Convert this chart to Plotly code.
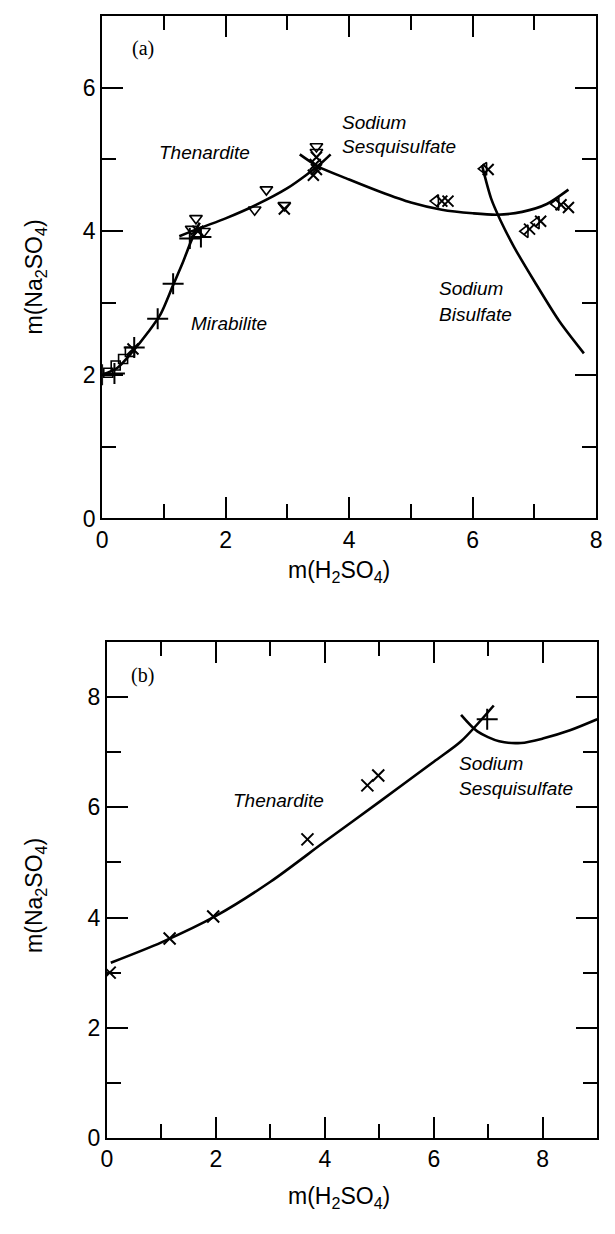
import plotly.graph_objects as go

# ---------------- Panel (a) data ----------------
a_plus_x = [0.0, 0.2, 0.52, 0.9, 1.15, 1.42, 1.6]
a_plus_y = [2.0, 2.02, 2.38, 2.78, 3.27, 3.9, 3.92]
a_square_x = [0.1, 0.22, 0.34, 0.45]
a_square_y = [2.03, 2.13, 2.22, 2.32]
a_tridown_x = [1.52, 1.45, 1.65, 2.47, 2.66, 2.95, 3.47, 3.47]
a_tridown_y = [4.18, 4.03, 4.0, 4.3, 4.58, 4.36, 5.18, 5.1]
a_cross_x = [0.5, 1.55, 2.95, 3.47, 3.45, 3.47, 3.42, 5.5, 5.6, 6.25, 6.92, 7.1, 7.43, 7.55]
a_cross_y = [2.36, 4.0, 4.31, 5.03, 4.93, 4.86, 4.78, 4.42, 4.42, 4.86, 4.03, 4.14, 4.37, 4.33]
a_trileft_x = [5.4, 6.18, 6.85, 7.03, 7.35]
a_trileft_y = [4.42, 4.87, 4.0, 4.12, 4.38]

a_mirabilite_x = [0.0, 0.25, 0.5, 0.75, 0.95, 1.15, 1.3, 1.45, 1.58]
a_mirabilite_y = [2.0, 2.1, 2.33, 2.6, 2.85, 3.25, 3.55, 3.88, 4.12]
a_thenardite_x = [1.25, 1.6, 2.0, 2.5, 3.0, 3.3, 3.55, 3.7]
a_thenardite_y = [3.93, 4.05, 4.18, 4.37, 4.6, 4.78, 4.95, 5.07]
a_sesqui_x = [3.2, 3.5, 4.0, 4.5, 5.0, 5.5, 6.0, 6.4, 6.8, 7.2, 7.55]
a_sesqui_y = [5.07, 4.9, 4.72, 4.55, 4.4, 4.3, 4.25, 4.23, 4.27, 4.38, 4.58]
a_bisulf_x = [6.15, 6.3, 6.45, 6.67, 7.0, 7.4, 7.8]
a_bisulf_y = [4.92, 4.45, 4.15, 3.78, 3.3, 2.75, 2.3]

# ---------------- Panel (b) data ----------------
b_cross_x = [0.05, 1.15, 1.95, 3.68, 4.78, 4.98]
b_cross_y = [3.0, 3.62, 4.02, 5.42, 6.4, 6.58]
b_plus_x = [6.98]
b_plus_y = [7.6]
b_thenardite_x = [0.07, 1.0, 2.0, 3.0, 4.0, 5.0, 6.0, 6.5, 7.1]
b_thenardite_y = [3.18, 3.55, 4.03, 4.65, 5.38, 6.1, 6.83, 7.2, 7.85]
b_sesqui_x = [6.5, 6.8, 7.2, 7.6, 8.0, 8.5, 9.0]
b_sesqui_y = [7.68, 7.38, 7.2, 7.17, 7.25, 7.4, 7.6]

x_ticks = [0, 2, 4, 6, 8]
ya_ticks = [0, 2, 4, 6]
yb_ticks = [0, 2, 4, 6, 8]

FONT = "Liberation Sans"
W, H = 615, 1234

fig = go.Figure()

def line(x, y, xa, ya):
    fig.add_trace(go.Scatter(x=x, y=y, mode="lines", xaxis=xa, yaxis=ya,
                             line=dict(color="black", width=2.6, shape="spline", smoothing=0.8),
                             showlegend=False, hoverinfo="skip"))

def pts(x, y, xa, ya, symbol, size, lw=1.6):
    fig.add_trace(go.Scatter(x=x, y=y, mode="markers", xaxis=xa, yaxis=ya,
                             marker=dict(symbol=symbol, size=size, color="black",
                                         line=dict(color="black", width=lw)),
                             showlegend=False, hoverinfo="skip"))

# panel a
line(a_mirabilite_x, a_mirabilite_y, "x", "y")
line(a_thenardite_x, a_thenardite_y, "x", "y")
line(a_sesqui_x, a_sesqui_y, "x", "y")
line(a_bisulf_x, a_bisulf_y, "x", "y")
pts(a_plus_x, a_plus_y, "x", "y", "cross-thin", 15, 2)
pts(a_square_x, a_square_y, "x", "y", "square-open", 9, 1.6)
pts(a_tridown_x, a_tridown_y, "x", "y", "triangle-down-open", 11, 1.6)
pts(a_cross_x, a_cross_y, "x", "y", "x-thin", 11, 2)
pts(a_trileft_x, a_trileft_y, "x", "y", "triangle-left-open", 11, 1.6)

# panel b
line(b_thenardite_x, b_thenardite_y, "x2", "y2")
line(b_sesqui_x, b_sesqui_y, "x2", "y2")
pts(b_cross_x, b_cross_y, "x2", "y2", "x-thin", 12, 2)
pts(b_plus_x, b_plus_y, "x2", "y2", "cross-thin", 15, 2)

def axis(domain, rng, ticks, anchor):
    return dict(domain=domain, range=rng, anchor=anchor, tickvals=ticks,
                ticks="inside", ticklen=21, tickwidth=2, tickcolor="black",
                minor=dict(dtick=1, ticks="inside", ticklen=14, tickwidth=2,
                           tickcolor="black", showgrid=False),
                showline=True, linecolor="black", linewidth=2, mirror="allticks",
                showgrid=False, zeroline=False,
                tickfont=dict(family=FONT, size=23, color="black"))

xa = axis([98 / W, 602 / W], [0, 8], x_ticks, "y")
ya = axis([1 - 524 / H, 1 - 16 / H], [0, 7], ya_ticks, "x")
xb = axis([103 / W, 603 / W], [0, 9], x_ticks, "y2")
yb = axis([1 - 1150 / H, 1 - 649 / H], [0, 9], yb_ticks, "x2")
xa["minor"]["tickvals"] = [1, 3, 5, 7]
xb["minor"]["tickvals"] = [1, 3, 5, 7, 9]
ya["minor"]["tickvals"] = [1, 3, 5, 7]
yb["minor"]["tickvals"] = [1, 3, 5, 7]
for ax in (xa, ya, xb, yb):
    ax["minor"].pop("dtick")

fig.update_layout(width=W, height=H, margin=dict(l=0, r=0, t=0, b=0),
                  paper_bgcolor="white", plot_bgcolor="white",
                  xaxis=xa, yaxis=ya, xaxis2=xb, yaxis2=yb)

anns = []
def txt(x, y, s, xref, yref, size=19, italic=True, xanchor="center", family=FONT, angle=0):
    anns.append(dict(x=x, y=y, xref=xref, yref=yref, text=(f"<i>{s}</i>" if italic else s),
                     showarrow=False, xanchor=xanchor, yanchor="middle", align="left",
                     textangle=angle,
                     font=dict(family=family, size=size, color="black")))

# panel a labels
txt(0.45, 6.55, "(a)", "x", "y", size=20, italic=False, xanchor="left", family="Liberation Serif")
txt(1.65, 5.1, "Thenardite", "x", "y")
txt(2.06, 2.72, "Mirabilite", "x", "y")
txt(3.85, 5.52, "Sodium", "x", "y", xanchor="left")
txt(3.85, 5.18, "Sesquisulfate", "x", "y", xanchor="left")
txt(5.42, 3.2, "Sodium", "x", "y", xanchor="left")
txt(5.42, 2.84, "Bisulfate", "x", "y", xanchor="left")
# panel b labels
txt(0.4, 8.4, "(b)", "x2", "y2", size=20, italic=False, xanchor="left", family="Liberation Serif")
txt(3.15, 6.12, "Thenardite", "x2", "y2")
txt(6.42, 6.8, "Sodium", "x2", "y2", xanchor="left")
txt(6.42, 6.35, "Sesquisulfate", "x2", "y2", xanchor="left")

# axis titles
txt(340 / W, 1 - 578 / H, "m(H<sub>2</sub>SO<sub>4</sub>)", "paper", "paper", size=23, italic=False)
txt(340 / W, 1 - 1210 / H, "m(H<sub>2</sub>SO<sub>4</sub>)", "paper", "paper", size=23, italic=False)
txt(30 / W, 1 - 280 / H, "m(Na<sub>2</sub>SO<sub>4</sub>)", "paper", "paper", size=23, italic=False, angle=-90)
txt(30 / W, 1 - 905 / H, "m(Na<sub>2</sub>SO<sub>4</sub>)", "paper", "paper", size=23, italic=False, angle=-90)

fig.update_layout(annotations=anns)
fig.write_html("out.html")
